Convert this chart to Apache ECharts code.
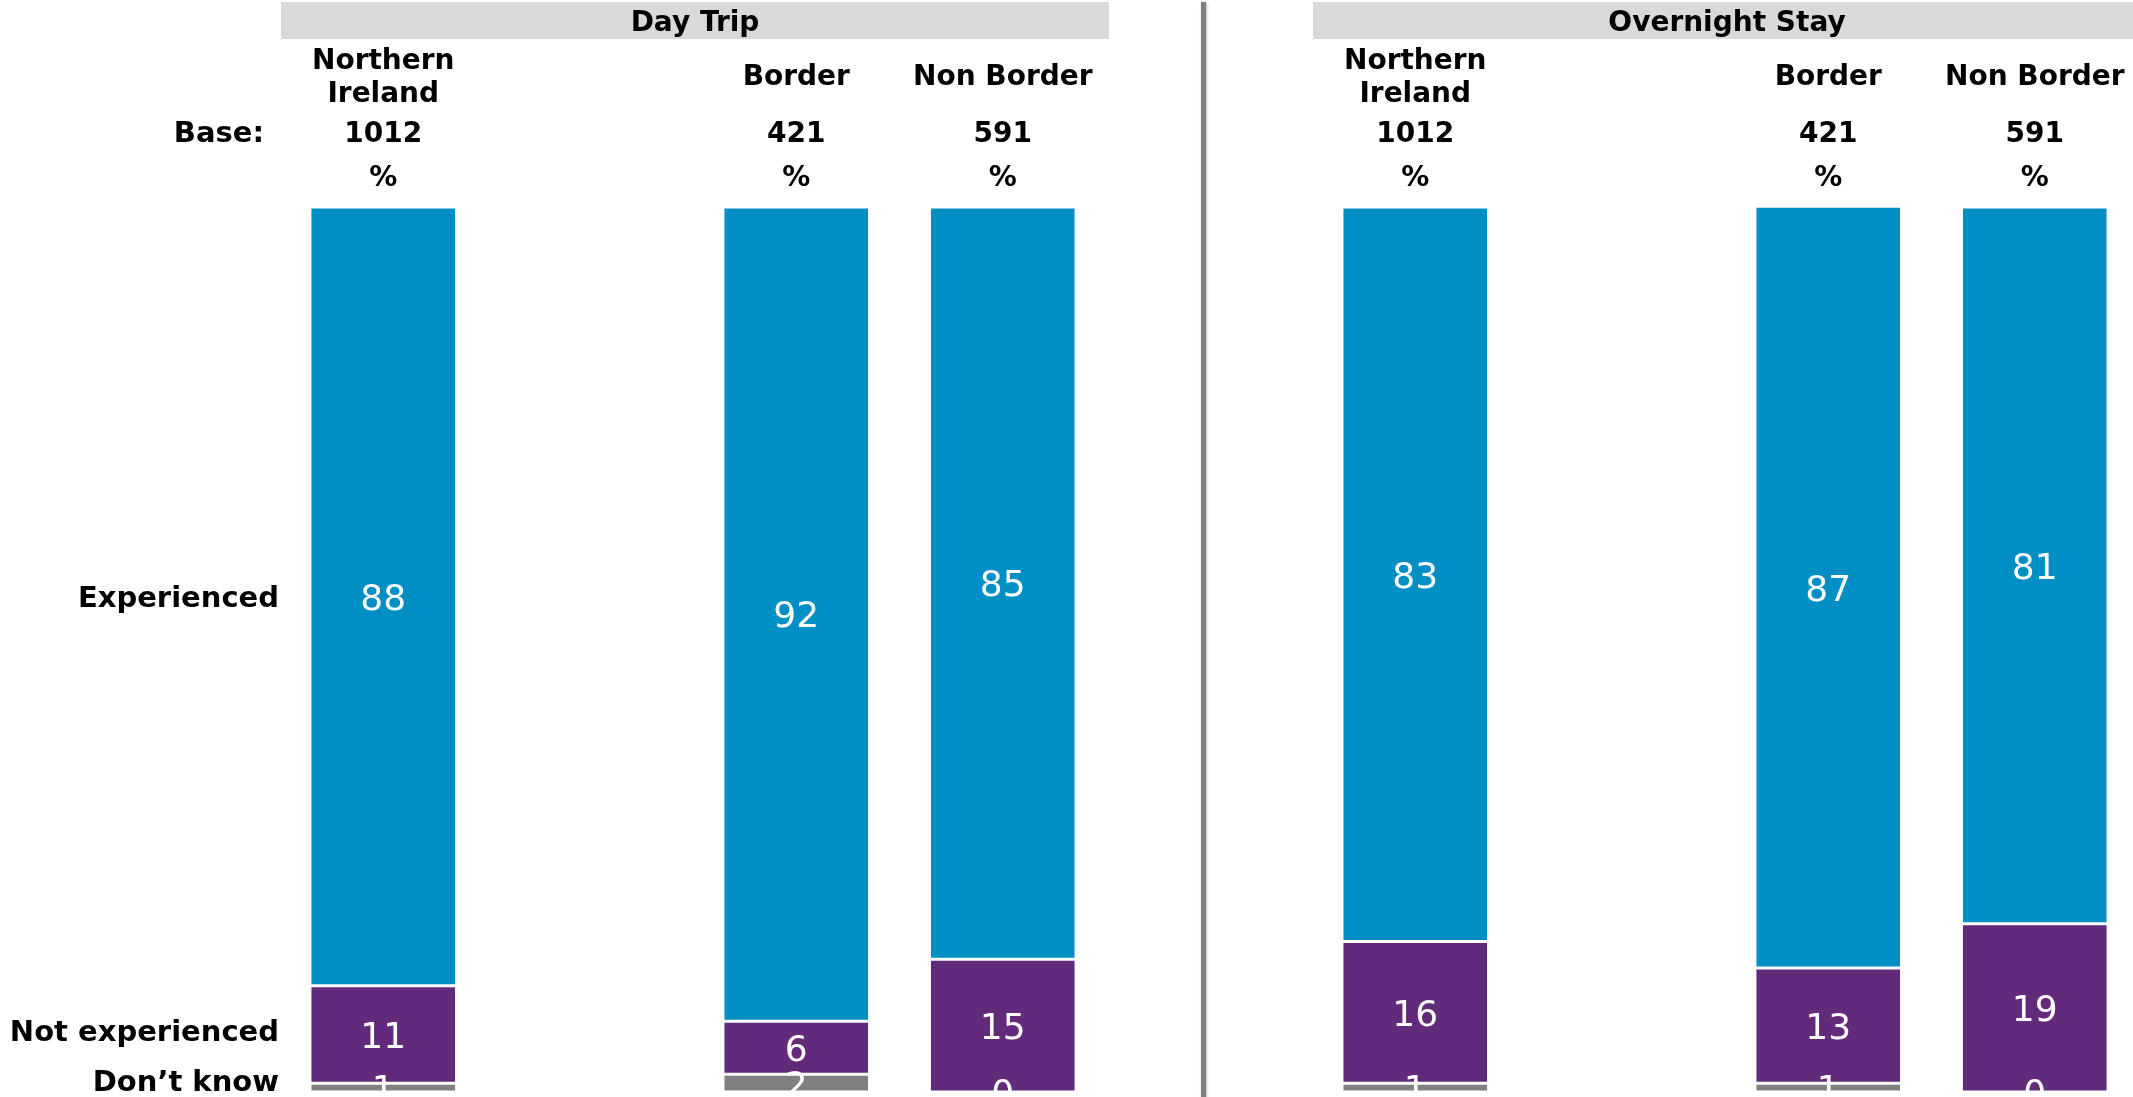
<!DOCTYPE html>
<html><head><meta charset="utf-8">
<script src="https://cdn.jsdelivr.net/npm/echarts@6/dist/echarts.min.js"></script>
<style>html,body{margin:0;padding:0;background:#fff}#c{width:2133px;height:1097px}</style>
</head><body><div id="c"></div>
<script>
const panels = ['Day Trip', 'Overnight Stay'];
const categories = ['Northern\nIreland', '', 'Border', 'Non Border'];
const bases = ['1012', '', '421', '591'];
const pctRow = ['%', '', '%', '%'];
const baseLabel = 'Base:';
const rowLabels = ['Experienced', 'Not experienced', 'Don\u2019t know'];
const dayExperienced = [88, null, 92, 85];
const dayNotExperienced = [11, null, 6, 15];
const dayDontKnow = [1, null, 2, 0];
const nightExperienced = [83, null, 87, 81];
const nightNotExperienced = [16, null, 13, 19];
const nightDontKnow = [1, null, 1, 0];
const colors = ['#008FC5', '#622A7A', '#808080'];

const FONT = 'DejaVu Sans';
const grids = [
  {left: 280, top: 207, width: 826, height: 885, outerBoundsMode: 'none', containLabel: false},
  {left: 1312, top: 207, width: 826, height: 885, outerBoundsMode: 'none', containLabel: false}
];
const headerRows = [[categories, 129], [bases, 72], [pctRow, 28]];
const xAxis = [];
grids.forEach((g, gi) => {
  headerRows.forEach(([arr, margin]) => {
    xAxis.push({
      type: 'category', gridIndex: gi, data: arr, position: 'top',
      axisLine: {show: false}, axisTick: {show: false}, splitLine: {show: false},
      axisLabel: {interval: 0, margin: margin, verticalAlign: 'middle', fontFamily: FONT,
        fontWeight: 'bold', fontSize: 28, color: '#000', lineHeight: 33}
    });
  });
});
const yAxis = grids.map((g, gi) => ({type: 'value', gridIndex: gi, min: 0, max: 100, show: false}));

const panelData = [
  [dayDontKnow, dayNotExperienced, dayExperienced],
  [nightDontKnow, nightNotExperienced, nightExperienced]
];
const seriesNames = ['Don\u2019t know', 'Not experienced', 'Experienced'];
const series = [];
panelData.forEach((sets, gi) => {
  sets.forEach((d, si) => {
    series.push({
      type: 'bar', name: seriesNames[si], stack: 'p' + gi, data: d,
      xAxisIndex: gi * 3, yAxisIndex: gi, barWidth: '71%', clip: true,
      itemStyle: {color: colors[2 - si], borderColor: '#fff', borderWidth: 1.5},
      label: {show: true, position: 'inside', offset: [0, 4], color: '#fff', fontFamily: FONT, fontSize: 36,
        formatter: p => (p.value == null ? '' : String(p.value))},
      emphasis: {disabled: true}
    });
  });
});

const chart = echarts.init(document.getElementById('c'), null, {renderer: 'canvas'});
chart.setOption({animation: false, backgroundColor: '#fff', grid: grids, xAxis, yAxis, series});

const graphic = [];
const headerBoxes = [{left: 281, width: 828}, {left: 1313, width: 828}];
headerBoxes.forEach((g, gi) => {
  graphic.push({type: 'rect', shape: {x: g.left, y: 2, width: g.width, height: 37},
    style: {fill: '#D9D9D9'}, silent: true});
  graphic.push({type: 'text', x: g.left + g.width / 2, y: 24,
    style: {text: panels[gi], font: 'bold 28px "' + FONT + '"', fill: '#000', align: 'center', verticalAlign: 'middle'}});
});
graphic.push({type: 'rect', shape: {x: 1201, y: 2, width: 5, height: 1100},
  style: {fill: '#808080', shadowColor: 'rgba(0,0,0,0.25)', shadowBlur: 3, shadowOffsetX: 1}});
graphic.push({type: 'text', x: 264, y: 134,
  style: {text: baseLabel, font: 'bold 29px "' + FONT + '"', fill: '#000', align: 'right', verticalAlign: 'middle'}});
// row labels aligned to the segments of the first bar
const first = [dayExperienced[0], dayNotExperienced[0], dayDontKnow[0]];
const nudge = [3, -1, -4];
let cum = 100;
first.forEach((v, i) => {
  const mid = cum - v / 2;
  cum -= v;
  const py = chart.convertToPixel({yAxisIndex: 0}, mid);
  graphic.push({type: 'text', x: 279, y: py + nudge[i],
    style: {text: rowLabels[i], font: 'bold 29px "' + FONT + '"', fill: '#000', align: 'right', verticalAlign: 'middle'}});
});
chart.setOption({graphic});
</script></body></html>
